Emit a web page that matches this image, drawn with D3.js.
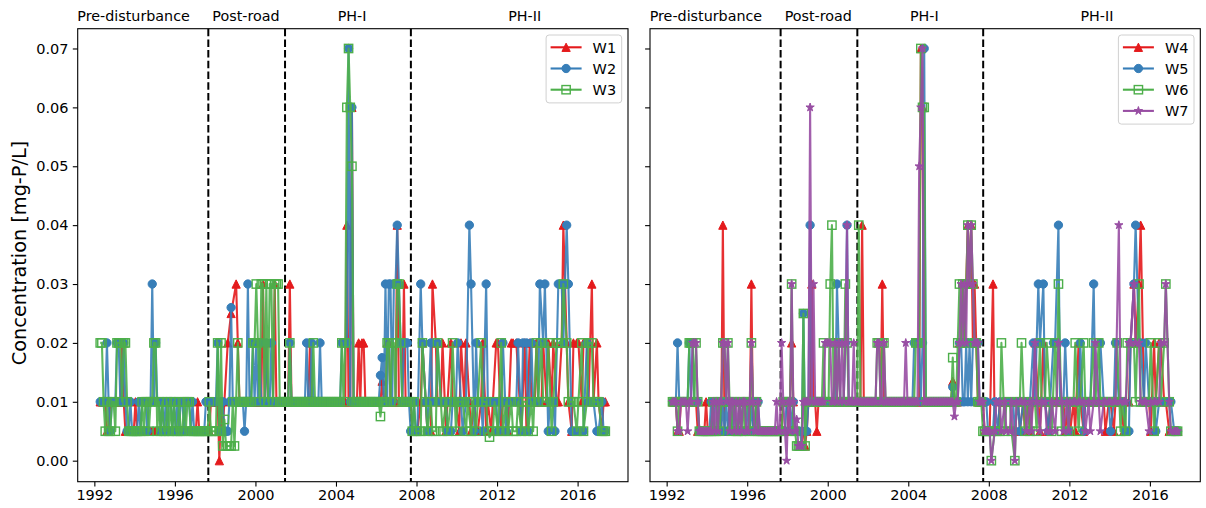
<!DOCTYPE html>
<html>
<head>
<meta charset="utf-8">
<script src="https://cdn.jsdelivr.net/npm/d3@7"></script>
<style>
  body { margin: 0; background: #fff; }
  svg { display: block; }
  text { font-family: "DejaVu Sans", sans-serif; fill: #000; }
</style>
</head>
<body>
<svg id="chart" width="1206" height="508"></svg>
<script>
// Monthly total-phosphorus samples, in µg-P/L (converted to mg-P/L for plotting).
// Each well: one row per year in sampleYears, Jan..Dec; null = no sample.
const _ = null;
const sampleYears = [1992, 1993, 1994, 1995, 1996, 1997, 1998, 1999, 2000, 2001, 2002, 2003, 2004,
                     2005, 2006, 2007, 2008, 2009, 2010, 2011, 2012, 2013, 2014, 2015, 2016, 2017];

const W1 = [
  [_,_,_,10,10,10,10,5,5,10,10,10],
  [10,10,10,10,20,10,5,5,5,5,5,5],
  [10,5,5,5,5,5,5,5,5,5,5,5],
  [5,5,5,5,5,5,5,5,5,5,5,5],
  [5,5,5,5,5,5,5,5,5,5,5,5],
  [5,10,5,5,5,5,5,5,5,10,10,10],
  [10,10,0,10,5,10,_,20,_,25,_,_],
  [30,20,10,10,10,10,10,10,10,10,10,10],
  [10,10,10,10,30,10,20,10,10,10,10,30],
  [10,10,10,10,10,10,10,10,30,10,10,10],
  [10,10,10,10,10,10,10,10,20,10,10,10],
  [10,10,10,10,10,10,10,10,10,10,10,10],
  [10,10,10,10,10,10,40,10,10,60,10,10],
  [10,20,10,20,20,10,10,10,10,10,10,10],
  [10,10,10,13.5,10,10,20,20,10,10,10,10],
  [40,10,10,10,30,10,10,10,10,5,5,5],
  [5,_,10,20,_,10,5,_,5,30,_,20],
  [10,_,10,20,_,5,10,_,20,10,_,10],
  [_,5,20,_,10,20,_,10,5,_,10,5],
  [5,_,10,20,_,5,10,_,5,10,_,20],
  [20,_,5,10,_,10,5,_,20,20,_,20],
  [_,10,5,_,20,5,_,20,10,_,10,20],
  [10,_,10,20,_,10,20,_,10,20,_,10],
  [10,_,20,40,_,20,10,_,5,20,_,20],
  [20,_,10,20,_,20,10,_,30,10,_,20],
  [10,_,5,10,10]
];
const W2 = [
  [_,_,_,10,10,10,10,20,10,5,10,10],
  [10,20,20,10,10,20,10,5,5,10,5,5],
  [5,5,10,5,10,10,10,5,10,10,30,10],
  [20,10,10,5,10,5,10,5,10,10,5,10],
  [5,10,5,10,10,5,10,10,10,5,10,5],
  [5,5,5,5,5,5,10,10,10,10,10,10],
  [10,20,5,10,10,5,5,5,10,26,10,10],
  [10,10,10,10,10,5,10,30,10,10,20,10],
  [20,10,20,10,10,10,20,10,10,20,10,10],
  [10,10,10,10,10,10,10,10,20,10,10,10],
  [10,10,10,10,10,10,20,10,10,20,10,10],
  [10,10,20,10,10,10,10,10,10,10,10,10],
  [10,10,10,20,20,20,20,70,10,60,10,10],
  [10,10,10,10,10,10,10,10,10,10,10,10],
  [10,10,14.5,17.5,10,30,10,30,30,10,30,30],
  [40,30,20,10,20,20,20,10,5,5,10,5],
  [5,_,30,20,_,10,5,_,20,10,_,10],
  [20,_,10,10,_,10,5,_,5,10,_,10],
  [20,_,10,5,_,10,_,40,30,_,5,20],
  [10,_,10,5,_,30,10,_,10,10,_,10],
  [5,_,10,20,_,5,10,_,10,10,_,10],
  [20,_,5,20,_,20,5,_,20,10,_,10],
  [10,30,_,20,30,_,5,10,_,10,5,_],
  [30,_,30,20,_,40,30,_,5,5,_,5],
  [5,_,5,5,_,20,10,_,10,10,_,5],
  [5,_,10,5,5]
];
const W3 = [
  [_,_,_,20,20,10,5,10,5,5,10,10],
  [5,20,20,20,10,20,20,10,5,5,5,5],
  [5,5,5,5,10,5,10,10,5,10,10,20],
  [20,5,10,5,10,5,5,10,5,10,5,10],
  [5,5,10,5,5,10,5,10,10,5,5,5],
  [5,5,5,5,5,5,5,5,10,5,5,5],
  [5,20,5,20,2.5,7,2.5,2.5,2.5,2.5,10,2.5],
  [10,20,10,10,10,10,10,10,10,10,20,20],
  [30,20,10,30,30,10,30,10,30,30,10,30],
  [30,30,10,10,10,10,10,10,20,10,10,10],
  [10,10,10,10,10,10,10,10,10,10,20,10],
  [10,10,10,10,10,10,10,10,10,10,10,10],
  [10,10,10,20,10,20,60,70,60,50,10,10],
  [10,10,10,10,10,10,10,10,10,10,10,10],
  [10,10,7.5,10,10,10,20,20,10,20,20,10],
  [30,30,20,10,10,10,10,10,10,5,10,5],
  [5,_,5,20,_,10,5,_,10,5,_,5],
  [20,_,10,5,_,10,5,_,10,20,_,5],
  [10,_,10,10,_,5,10,_,5,10,_,5],
  [10,_,20,10,_,10,5,4,_,5,10,_],
  [5,_,20,5,_,10,5,_,10,5,_,5],
  [10,_,5,10,_,10,5,_,10,5,_,20],
  [10,_,20,10,_,10,20,_,5,10,_,20],
  [20,_,20,30,_,20,10,_,10,10,_,5],
  [10,_,20,5,_,10,20,_,20,10,_,10],
  [10,_,5,5,5]
];
const W4 = [
  [_,_,_,10,10,10,5,5,10,10,10,10],
  [10,10,10,10,10,10,5,5,5,5,5,10],
  [5,5,5,10,5,5,5,5,5,40,5,5],
  [5,10,5,5,5,5,5,10,5,5,5,5],
  [5,5,30,5,5,10,5,5,5,5,5,5],
  [5,5,5,5,5,5,5,5,5,10,10,10],
  [5,10,20,10,5,5,5,5,5,5,2.5,5],
  [10,10,30,10,10,5,10,10,10,10,10,10],
  [10,10,10,10,10,10,10,10,10,10,10,10],
  [10,10,10,10,10,10,10,10,40,10,10,10],
  [10,10,10,10,10,10,10,10,30,10,10,10],
  [10,10,10,10,10,10,10,10,10,10,10,10],
  [10,10,10,10,10,10,10,70,60,10,10,10],
  [10,10,10,10,10,10,10,10,10,10,10,10],
  [10,10,13.5,10,10,10,20,20,30,20,30,40],
  [30,40,20,30,20,10,10,10,10,5,5,5],
  [5,_,30,5,_,5,10,_,10,10,_,10],
  [10,_,10,10,_,10,5,_,10,5,_,10],
  [5,_,10,20,_,10,5,_,20,10,_,5],
  [10,_,10,10,_,10,10,_,10,5,_,10],
  [5,_,10,5,_,20,10,_,5,10,_,10],
  [10,_,10,10,_,10,10,_,10,5,_,10],
  [10,_,5,10,_,10,10,_,5,10,_,10],
  [20,_,30,20,_,30,40,_,10,10,_,10],
  [5,_,20,10,_,20,20,_,10,10,_,5],
  [5,_,5,5,5]
];
const W5 = [
  [_,_,_,10,10,10,20,10,10,10,10,10],
  [10,20,10,20,10,10,10,5,5,5,5,5],
  [5,5,10,5,10,10,5,10,5,10,5,10],
  [5,10,10,5,10,5,5,10,5,10,10,5],
  [10,5,10,5,5,10,10,5,5,5,5,5],
  [5,5,5,5,5,5,5,5,5,5,5,10],
  [10,10,5,10,5,5,5,5,2.5,25,5,5],
  [10,40,10,10,10,10,10,10,10,10,10,10],
  [10,10,10,10,10,30,20,10,10,10,20,40],
  [10,10,10,10,10,10,10,10,10,10,10,10],
  [10,10,10,10,10,10,10,10,10,10,10,10],
  [10,10,10,10,10,10,10,10,10,10,10,10],
  [10,10,10,20,20,20,20,10,20,70,10,10],
  [10,10,10,10,10,10,10,10,10,10,10,10],
  [10,10,12.5,10,10,10,20,20,10,10,20,10],
  [20,10,20,20,20,20,10,10,10,10,10,5],
  [5,_,5,10,_,5,10,_,10,10,_,10],
  [10,_,10,5,_,10,5,_,10,10,_,10],
  [10,_,20,10,_,30,20,_,30,10,_,5],
  [10,_,20,20,_,40,10,_,10,20,_,5],
  [10,_,10,10,_,10,20,_,5,10,_,10],
  [10,_,30,10,_,10,20,_,10,10,_,10],
  [5,_,10,20,_,10,10,_,10,5,_,5],
  [20,_,30,40,_,20,20,_,10,20,_,10],
  [10,_,10,5,_,10,10,_,10,10,_,10],
  [10,_,5,5,5]
];
const W6 = [
  [_,_,_,10,10,10,5,10,10,10,10,10],
  [10,20,20,20,10,20,10,5,5,5,5,5],
  [5,5,5,10,5,5,10,5,10,20,20,10],
  [20,10,5,10,10,5,5,10,5,10,5,10],
  [10,5,20,10,5,10,5,5,5,5,5,5],
  [5,5,5,5,5,5,5,5,5,10,10,10],
  [10,10,30,5,5,2.5,2.5,2.5,2.5,25,2.5,10],
  [10,10,10,10,10,10,10,10,10,20,10,10],
  [10,30,40,10,20,10,20,10,10,10,30,20],
  [10,10,10,10,10,10,40,10,10,10,10,10],
  [10,10,10,10,10,20,20,10,20,20,10,10],
  [10,10,10,10,10,10,10,10,10,10,10,10],
  [10,10,10,10,20,20,20,70,60,60,10,10],
  [10,10,10,10,10,10,10,10,10,10,10,10],
  [10,10,17.5,10,10,20,30,20,30,20,30,40],
  [30,40,30,20,20,10,10,10,5,5,5,5],
  [5,0,_,5,5,_,5,20,_,5,10,_],
  [10,5,_,0,10,_,10,20,_,5,10,_],
  [5,10,_,10,5,_,20,10,_,10,20,_],
  [10,5,_,20,10,30,_,5,10,_,10,5],
  [10,_,10,20,_,5,10,_,20,10,_,10],
  [10,_,20,10,_,20,10,_,10,10,_,10],
  [10,_,10,10,20,_,5,10,_,5,20,_],
  [20,_,20,10,_,30,10,_,10,10,_,10],
  [20,_,5,10,_,20,10,_,20,30,_,10],
  [5,_,5,5,5]
];
const W7 = [
  [_,_,_,10,10,10,5,5,10,10,10,10],
  [5,10,10,20,20,20,10,5,5,5,5,5],
  [5,5,5,10,5,10,5,10,10,20,20,10],
  [20,5,10,10,5,10,5,10,5,10,10,5],
  [5,10,20,10,5,5,10,5,5,5,5,5],
  [5,5,5,5,5,10,5,5,20,10,5,0],
  [10,5,30,10,5,7,2.5,2.5,2.5,10,10,10],
  [10,60,10,30,10,10,10,10,10,10,20,20],
  [20,20,10,10,20,10,20,10,20,10,20,40],
  [10,10,10,20,10,10,10,10,10,10,10,10],
  [10,10,10,10,10,20,20,10,10,20,10,10],
  [10,10,10,10,10,10,10,10,10,10,20,10],
  [10,10,10,10,10,10,50,60,70,10,10,10],
  [10,10,10,10,10,10,10,10,10,10,10,10],
  [10,10,10,7.5,10,10,20,30,20,30,20,40],
  [30,40,30,20,20,20,10,10,10,5,5,5],
  [5,0,_,5,10,_,10,5,_,10,5,_],
  [5,10,_,0,10,_,10,10,_,10,5,_],
  [10,5,_,20,10,_,5,10,_,10,5,_],
  [5,10,_,5,10,20,_,10,5,_,10,5],
  [10,_,10,10,_,10,10,_,10,5,_,10],
  [5,_,10,20,_,10,5,_,10,10,_,10],
  [10,_,10,10,_,40,10,_,10,10,_,20],
  [20,_,30,20,_,20,10,_,10,10,_,5],
  [10,_,10,10,_,10,20,_,20,30,_,10],
  [5,_,5,5,5]
];

const UG_PER_MG = 1000;
const periodNames = ["Pre-disturbance", "Post-road", "PH-I", "PH-II"];
const periodLabelYears = [1993.95, 1999.53, 2004.80, 2013.37];
const periodBreaks = [1997.66, 2001.47, 2007.72];
const xTickYears = [1992, 1996, 2000, 2004, 2008, 2012, 2016];
const yTickValues = [0, 0.01, 0.02, 0.03, 0.04, 0.05, 0.06, 0.07];
const yLabel = "Concentration [mg-P/L]";

const leftWells  = [{ name: "W1", rows: W1 }, { name: "W2", rows: W2 }, { name: "W3", rows: W3 }];
const rightWells = [{ name: "W4", rows: W4 }, { name: "W5", rows: W5 }, { name: "W6", rows: W6 }, { name: "W7", rows: W7 }];

// styling per well (Set1 palette)
const styles = {
  W1: { color: "#e41a1c", marker: "triangle" },
  W2: { color: "#377eb8", marker: "circle" },
  W3: { color: "#4daf4a", marker: "square" },
  W4: { color: "#e41a1c", marker: "triangle" },
  W5: { color: "#377eb8", marker: "circle" },
  W6: { color: "#4daf4a", marker: "square" },
  W7: { color: "#984ea3", marker: "star" }
};

function toPoints(rows) {
  const pts = [];
  rows.forEach((row, i) => {
    row.forEach((v, m) => {
      if (v !== null && v !== undefined) {
        pts.push({ t: sampleYears[i] + (m + 0.5) / 12, v: v / UG_PER_MG });
      }
    });
  });
  return pts;
}

const svg = d3.select("#chart");
const plotTop = 28.7, plotBottom = 481.7;
const panels = [
  { left: 77.7, right: 628, wells: leftWells, showYLabels: true },
  { left: 650, right: 1200.3, wells: rightWells, showYLabels: false }
];

const y = d3.scaleLinear().domain([-0.00357, 0.07336]).range([plotBottom, plotTop]);
const MS = 8.3;      // marker size (px)

function markerPath(shape, s) {
  const h = s / 2;
  if (shape === "triangle") return `M0,${-h}L${-h},${h}L${h},${h}Z`;
  if (shape === "star") {
    const ro = h * 1.05, ri = ro * 0.381966;
    let d = "";
    for (let k = 0; k < 10; k++) {
      const r = k % 2 === 0 ? ro : ri;
      const a = -Math.PI / 2 + k * Math.PI / 5;
      d += (k === 0 ? "M" : "L") + (r * Math.cos(a)).toFixed(2) + "," + (r * Math.sin(a)).toFixed(2);
    }
    return d + "Z";
  }
  return null;
}

function drawMarker(g, shape, color, cx, cy) {
  if (shape === "circle") {
    g.append("circle").attr("cx", cx).attr("cy", cy).attr("r", MS / 2)
      .attr("fill", color).attr("stroke", color).attr("stroke-width", 1);
  } else if (shape === "square") {
    g.append("rect").attr("x", cx - MS / 2).attr("y", cy - MS / 2)
      .attr("width", MS).attr("height", MS)
      .attr("fill", "none").attr("stroke", color).attr("stroke-width", 1.4);
  } else {
    g.append("path").attr("d", markerPath(shape, MS))
      .attr("transform", `translate(${cx},${cy})`)
      .attr("fill", color).attr("stroke", color).attr("stroke-width", 1).attr("stroke-linejoin", "miter");
  }
}

panels.forEach(p => {
  const x = d3.scaleLinear().domain([1991.173, 2018.503]).range([p.left, p.right]);
  const g = svg.append("g");

  // period separators
  periodBreaks.forEach(b => {
    g.append("line")
      .attr("x1", x(b)).attr("x2", x(b)).attr("y1", plotTop).attr("y2", plotBottom)
      .attr("stroke", "#000").attr("stroke-width", 2).attr("stroke-dasharray", "7.5,3.2");
  });

  // series
  const line = d3.line().x(d => x(d.t)).y(d => y(d.v));
  p.wells.forEach(w => {
    const st = styles[w.name];
    const pts = toPoints(w.rows);
    const sg = g.append("g");
    sg.append("path").datum(pts).attr("d", line)
      .attr("fill", "none").attr("stroke", st.color).attr("stroke-width", 2.1)
      .attr("stroke-opacity", 0.9).attr("stroke-linejoin", "round");
    pts.forEach(d => drawMarker(sg, st.marker, st.color, x(d.t), y(d.v)));
  });

  // frame
  g.append("rect").attr("x", p.left).attr("y", plotTop)
    .attr("width", p.right - p.left).attr("height", plotBottom - plotTop)
    .attr("fill", "none").attr("stroke", "#000").attr("stroke-width", 1.1);

  // axes
  const xAxis = d3.axisBottom(x).tickValues(xTickYears).tickFormat(d3.format("d"))
    .tickSize(4.9).tickPadding(3.4);
  const xg = g.append("g").attr("transform", `translate(0,${plotBottom})`).call(xAxis);
  const yAxis = d3.axisLeft(y).tickValues(yTickValues)
    .tickFormat(p.showYLabels ? d3.format(".2f") : () => "")
    .tickSize(4.9).tickPadding(4.3);
  const yg = g.append("g").attr("transform", `translate(${p.left},0)`).call(yAxis);
  [xg, yg].forEach(ag => {
    ag.select(".domain").remove();
    ag.selectAll(".tick line").attr("stroke", "#000").attr("stroke-width", 1.1);
    ag.selectAll(".tick text").attr("font-size", 14.5).attr("fill", "#000")
      .attr("font-family", "DejaVu Sans, sans-serif");
  });

  // period labels above the frame
  periodNames.forEach((name, i) => {
    g.append("text").attr("x", x(periodLabelYears[i])).attr("y", 20.5)
      .attr("text-anchor", "middle").attr("font-size", 14.3).text(name);
  });

  // legend
  const n = p.wells.length;
  const boxW = 75.6, rowH = 21.2;
  const boxH = 13 + rowH * (n - 1) + 12.5;
  const bx = p.right - 6.3 - boxW, by = 35;
  const lg = g.append("g");
  lg.append("rect").attr("x", bx).attr("y", by).attr("width", boxW).attr("height", boxH)
    .attr("rx", 3).attr("fill", "#fff").attr("fill-opacity", 0.8)
    .attr("stroke", "#d0d0d0").attr("stroke-width", 1);
  p.wells.forEach((w, i) => {
    const st = styles[w.name];
    const cy = by + 12.3 + i * rowH;
    lg.append("line").attr("x1", bx + 4.5).attr("x2", bx + 35.5).attr("y1", cy).attr("y2", cy)
      .attr("stroke", st.color).attr("stroke-width", 2.1);
    drawMarker(lg, st.marker, st.color, bx + 20, cy);
    lg.append("text").attr("x", bx + 46.5).attr("y", cy).attr("dy", "0.36em")
      .attr("font-size", 14.5).text(w.name);
  });
});

// shared y-axis label
svg.append("text")
  .attr("transform", "translate(25.5,253) rotate(-90)")
  .attr("text-anchor", "middle").attr("font-size", 19.3).text(yLabel);
</script>
</body>
</html>
